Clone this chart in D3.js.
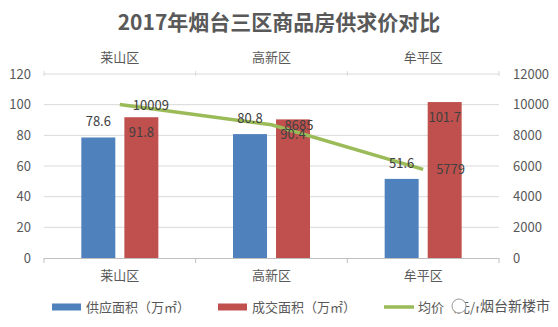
<!DOCTYPE html>
<html>
<head>
<meta charset="utf-8">
<script src="https://cdn.jsdelivr.net/npm/d3@7"></script>
<style>
  html, body { margin: 0; padding: 0; background: #fff; }
  svg { display: block; font-family: "Noto Sans CJK SC", "Noto Sans", sans-serif; }
</style>
</head>
<body>
<svg id="chart" width="558" height="327"></svg>
<script>
// Districts and their supply / sales area and average price, 2017
const categories = ["莱山区", "高新区", "牟平区"];
const supplyArea = [78.6, 80.8, 51.6];      // 供应面积（万㎡）
const soldArea = [91.8, 90.4, 101.7];       // 成交面积（万㎡）
const avgPrice = [10009, 8685, 5779];       // 均价（元/㎡）
const leftTicks = [0, 20, 40, 60, 80, 100, 120];
const rightTicks = [0, 2000, 4000, 6000, 8000, 10000, 12000];
const seriesNames = ["供应面积（万㎡）", "成交面积（万㎡）", "均价（元/㎡）"];

const colors = { supply: "#4F81BD", sold: "#C0504D", price: "#9BBB59" };
const textColor = "#595959";

const svg = d3.select("#chart");
const margin = { left: 44, right: 59, top: 74, bottom: 69 };
const W = 558, H = 327;
const x0 = margin.left, x1 = W - margin.right;
const yTop = margin.top, yBot = H - margin.bottom;

const x = d3.scaleBand().domain(categories).range([x0, x1]).padding(0);
const xs = d3.scaleBand().domain(["supply", "sold"]).range([0, x.bandwidth()])
  .paddingInner(0.21).paddingOuter(0.868);
const yL = d3.scaleLinear().domain([0, 120]).range([yBot, yTop]);
const yR = d3.scaleLinear().domain([0, 12000]).range([yBot, yTop]);

// Title
svg.append("text")
  .attr("x", 279).attr("y", 30)
  .attr("text-anchor", "middle")
  .attr("font-size", 21).attr("font-weight", "bold")
  .attr("fill", textColor)
  .text("2017年烟台三区商品房供求价对比");

// Gridlines
svg.append("g").selectAll("line").data(leftTicks.slice(1)).join("line")
  .attr("x1", x0).attr("x2", x1)
  .attr("y1", d => yL(d)).attr("y2", d => yL(d))
  .attr("stroke", "#d9d9d9").attr("stroke-width", 1);

// Left value axis
const leftAxis = svg.append("g").attr("transform", `translate(${x0 - 13},0)`)
  .call(d3.axisLeft(yL).tickValues(leftTicks).tickFormat(d3.format("d")).tickSize(0).tickPadding(0));
leftAxis.select(".domain").remove();
leftAxis.selectAll("text").attr("font-size", 13).attr("fill", textColor)
  .attr("font-family", "\"Noto Sans CJK SC\", sans-serif");

// Right value axis
const rightAxis = svg.append("g").attr("transform", `translate(${x1 + 14},0)`)
  .call(d3.axisRight(yR).tickValues(rightTicks).tickFormat(d3.format("d")).tickSize(0).tickPadding(0));
rightAxis.select(".domain").remove();
rightAxis.selectAll("text").attr("font-size", 13).attr("fill", textColor)
  .attr("font-family", "\"Noto Sans CJK SC\", sans-serif");

// Bottom and top category axes
const boundaries = [x0, ...categories.map(c => x(c) + x.bandwidth())];
const bottomAxis = svg.append("g");
bottomAxis.append("line").attr("x1", x0).attr("x2", x1)
  .attr("y1", yBot + 0.5).attr("y2", yBot + 0.5).attr("stroke", "#bfbfbf");
bottomAxis.selectAll("line.tick").data(boundaries).join("line").attr("class", "tick")
  .attr("x1", d => d).attr("x2", d => d)
  .attr("y1", yBot).attr("y2", yBot + 5).attr("stroke", "#bfbfbf");
bottomAxis.selectAll("text").data(categories).join("text")
  .attr("x", d => x(d) + x.bandwidth() / 2).attr("y", yBot + 22)
  .attr("text-anchor", "middle").attr("font-size", 13).attr("fill", textColor)
  .text(d => d);

const topAxis = svg.append("g");
topAxis.selectAll("line.tick").data(boundaries).join("line").attr("class", "tick")
  .attr("x1", d => d).attr("x2", d => d)
  .attr("y1", yTop - 3).attr("y2", yTop + 2).attr("stroke", "#d9d9d9");
topAxis.selectAll("text").data(categories).join("text")
  .attr("x", d => x(d) + x.bandwidth() / 2).attr("y", yTop - 12)
  .attr("text-anchor", "middle").attr("font-size", 13).attr("fill", textColor)
  .text(d => d);

// Bars
const rows = categories.map((c, i) => ({ c, supply: supplyArea[i], sold: soldArea[i], price: avgPrice[i] }));
const barG = svg.append("g");
barG.selectAll("rect.supply").data(rows).join("rect").attr("class", "supply")
  .attr("x", d => x(d.c) + xs("supply")).attr("width", xs.bandwidth())
  .attr("y", d => yL(d.supply)).attr("height", d => yBot - yL(d.supply))
  .attr("fill", colors.supply);
barG.selectAll("rect.sold").data(rows).join("rect").attr("class", "sold")
  .attr("x", d => x(d.c) + xs("sold")).attr("width", xs.bandwidth())
  .attr("y", d => yL(d.sold)).attr("height", d => yBot - yL(d.sold))
  .attr("fill", colors.sold);

// Price line
const line = d3.line().x(d => x(d.c) + x.bandwidth() / 2).y(d => yR(d.price));
svg.append("path").datum(rows)
  .attr("d", line).attr("fill", "none")
  .attr("stroke", colors.price).attr("stroke-width", 3.5);

// Data labels
const labelColor = "#404040";
const labG = svg.append("g").attr("font-size", 13).attr("fill", labelColor);
labG.selectAll("text.supply").data(rows).join("text").attr("class", "supply")
  .attr("x", d => x(d.c) + xs("supply") + xs.bandwidth() / 2)
  .attr("y", d => yL(d.supply) - 11)
  .attr("text-anchor", "middle").text(d => d.supply);
labG.selectAll("text.sold").data(rows).join("text").attr("class", "sold")
  .attr("x", d => x(d.c) + xs("sold") + xs.bandwidth() / 2)
  .attr("y", d => yL(d.sold) + 20)
  .attr("text-anchor", "middle").text(d => d.sold);
labG.selectAll("text.price").data(rows).join("text").attr("class", "price")
  .attr("x", d => x(d.c) + x.bandwidth() / 2 + 13)
  .attr("y", d => yR(d.price) + 5)
  .attr("text-anchor", "start").text(d => d.price);

// Legend
const legend = svg.append("g").attr("font-size", 13).attr("fill", textColor);
const legendItems = [
  { name: seriesNames[0], color: colors.supply, x: 52, type: "bar" },
  { name: seriesNames[1], color: colors.sold, x: 218, type: "bar" },
  { name: seriesNames[2], color: colors.price, x: 384, type: "line" }
];
const ly = 307;
legendItems.forEach(it => {
  if (it.type === "bar") {
    legend.append("rect").attr("x", it.x).attr("y", ly - 3.5).attr("width", 29).attr("height", 7)
      .attr("fill", it.color);
  } else {
    legend.append("line").attr("x1", it.x).attr("x2", it.x + 30)
      .attr("y1", ly).attr("y2", ly).attr("stroke", it.color).attr("stroke-width", 3.5);
  }
  legend.append("text").attr("x", it.x + 34).attr("y", ly + 5).text(it.name);
});

// Account watermark
const wm = svg.append("g");
wm.append("text").attr("x", 480).attr("y", ly + 4)
  .attr("font-size", 14).attr("fill", "#555")
  .attr("stroke", "#fff").attr("stroke-width", 3).attr("paint-order", "stroke")
  .text("烟台新楼市");
wm.append("circle").attr("cx", 459).attr("cy", ly - 1).attr("r", 7)
  .attr("fill", "#fff").attr("stroke", "#999").attr("stroke-width", 1);
</script>
</body>
</html>
